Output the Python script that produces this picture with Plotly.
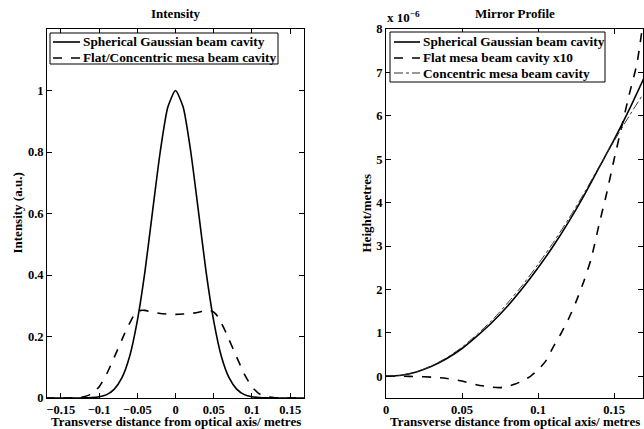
import plotly.graph_objects as go

# ---------------- data ----------------
# Left panel: intensity profiles
gauss_x = [-0.17, -0.16, -0.15, -0.14, -0.13, -0.12, -0.11, -0.10, -0.09, -0.08, -0.07, -0.06,
           -0.05, -0.04, -0.03, -0.02, -0.01, 0.0, 0.01, 0.02, 0.03, 0.04, 0.05, 0.06, 0.07,
           0.08, 0.09, 0.10, 0.11, 0.12, 0.13, 0.14, 0.15, 0.16, 0.17]
gauss_y = [0, 0, 0, 0, 0, 0.0003, 0.0012, 0.004, 0.011, 0.029, 0.066, 0.135,
           0.25, 0.41, 0.607, 0.80, 0.946, 1.0, 0.946, 0.80, 0.607, 0.41, 0.25, 0.135, 0.066,
           0.029, 0.011, 0.004, 0.0012, 0.0003, 0, 0, 0, 0, 0]

mesa_x = [-0.17, -0.16, -0.15, -0.14, -0.13, -0.12, -0.11, -0.10, -0.09, -0.08, -0.07, -0.065,
          -0.06, -0.055, -0.05, -0.045, -0.04, -0.03, -0.02, -0.01, 0.0, 0.01, 0.02, 0.03,
          0.04, 0.045, 0.05, 0.055, 0.06, 0.065, 0.07, 0.08, 0.09, 0.10, 0.11, 0.12, 0.13,
          0.14, 0.15, 0.16, 0.17]
mesa_y = [0, 0, 0, 0, 0.001, 0.004, 0.013, 0.036, 0.078, 0.133, 0.19, 0.218,
          0.243, 0.266, 0.279, 0.285, 0.285, 0.279, 0.275, 0.273, 0.272, 0.273, 0.275, 0.279,
          0.285, 0.285, 0.279, 0.266, 0.243, 0.218, 0.19, 0.133, 0.078, 0.036, 0.013, 0.004, 0.001,
          0, 0, 0, 0]

# Right panel: mirror profiles (units of 1e-6 m)
prof_x = [0.0, 0.01, 0.02, 0.03, 0.04, 0.05, 0.06, 0.07, 0.08, 0.09, 0.10, 0.11, 0.12,
          0.13, 0.14, 0.15, 0.16, 0.17]
spherical_h = [0, 0.025, 0.10, 0.23, 0.41, 0.64, 0.93, 1.25, 1.62, 2.04, 2.50, 3.00, 3.55,
               4.15, 4.80, 5.45, 6.15, 6.90]
concentric_h = [0, 0.026, 0.105, 0.24, 0.43, 0.67, 0.97, 1.30, 1.69, 2.11, 2.58, 3.08, 3.62,
                4.20, 4.82, 5.42, 6.00, 6.55]

flat_x = [0.0, 0.01, 0.02, 0.03, 0.04, 0.05, 0.06, 0.07, 0.075, 0.08, 0.085, 0.09, 0.095,
          0.10, 0.105, 0.11, 0.115, 0.12, 0.125, 0.13, 0.135, 0.14, 0.145, 0.15, 0.155,
          0.16, 0.165, 0.17]
flat_h = [0, 0.0, -0.005, -0.02, -0.05, -0.11, -0.20, -0.25, -0.26, -0.23, -0.18, -0.10, 0.0,
          0.15, 0.35, 0.68, 0.98, 1.32, 1.72, 2.18, 2.72, 3.48, 4.20, 5.00, 5.75,
          6.50, 7.20, 8.40]

left_xticks = [-0.15, -0.1, -0.05, 0, 0.05, 0.1, 0.15]
left_xticklabels = ["\u22120.15", "\u22120.1", "\u22120.05", "0", "0.05", "0.1", "0.15"]
left_yticks = [0, 0.2, 0.4, 0.6, 0.8, 1]
left_yticklabels = ["0", "0.2", "0.4", "0.6", "0.8", "1"]
right_xticks = [0, 0.05, 0.1, 0.15]
right_xticklabels = ["0", "0.05", "0.1", "0.15"]
right_yticks = [0, 1, 2, 3, 4, 5, 6, 7, 8]
right_yticklabels = ["0", "1", "2", "3", "4", "5", "6", "7", "8"]

left_legend_names = ["Spherical Gaussian beam cavity", "Flat/Concentric mesa beam cavity"]
right_legend_names = ["Spherical Gaussian beam cavity", "Flat mesa beam cavity x10",
                      "Concentric mesa beam cavity"]

# ---------------- figure ----------------
W, H = 644, 429
ML, MR, MT, MB = 47, 1, 29, 31
PW = W - ML - MR
PH = H - MT - MB


def px_x(p):
    return (p - ML) / PW


def px_y(p):
    return (H - MB - p) / PH


def b(s):
    return "<b>" + s + "</b>"


FONT = "Liberation Serif"
title_font = dict(family=FONT, size=13, color="black")
legend_font = dict(family=FONT, size=13.3, color="black")

styles_left = [dict(color="black", width=1.6, dash="solid"),
               dict(color="black", width=1.6, dash="dash")]
styles_right = [dict(color="black", width=1.6, dash="solid"),
                dict(color="black", width=1.6, dash="dash"),
                dict(color="#333333", width=1.0, dash="dashdot")]

fig = go.Figure()

fig.add_trace(go.Scatter(x=gauss_x, y=gauss_y, mode="lines", name=left_legend_names[0],
                         line=dict(**styles_left[0], shape="spline", smoothing=0.6),
                         xaxis="x", yaxis="y", showlegend=False))
fig.add_trace(go.Scatter(x=mesa_x, y=mesa_y, mode="lines", name=left_legend_names[1],
                         line=dict(**styles_left[1], shape="spline", smoothing=0.6),
                         xaxis="x", yaxis="y", showlegend=False))
fig.add_trace(go.Scatter(x=prof_x, y=spherical_h, mode="lines", name=right_legend_names[0],
                         line=dict(**styles_right[0], shape="spline", smoothing=0.6),
                         xaxis="x2", yaxis="y2", showlegend=False))
fig.add_trace(go.Scatter(x=flat_x, y=flat_h, mode="lines", name=right_legend_names[1],
                         line=dict(**styles_right[1], shape="spline", smoothing=0.6),
                         xaxis="x2", yaxis="y2", showlegend=False))
fig.add_trace(go.Scatter(x=prof_x, y=concentric_h, mode="lines", name=right_legend_names[2],
                         line=dict(**styles_right[2], shape="spline", smoothing=0.6),
                         xaxis="x2", yaxis="y2", showlegend=False))

axis_common = dict(showline=True, linecolor="black", linewidth=1, mirror="ticks",
                   ticks="inside", ticklen=5, tickcolor="black", tickwidth=1,
                   showgrid=False, zeroline=False, automargin=False,
                   tickfont=dict(family=FONT, size=12.5, color="black", weight="bold"))

shapes = []
annotations = []


def add_legend(x0, x1, y0, y1, rows_y, line_x0, line_x1, text_x, names, styles):
    shapes.append(dict(type="rect", xref="paper", yref="paper", layer="above",
                       x0=px_x(x0), x1=px_x(x1), y0=px_y(y1), y1=px_y(y0),
                       line=dict(color="black", width=1), fillcolor="white"))
    for ry, nm, st in zip(rows_y, names, styles):
        shapes.append(dict(type="line", xref="paper", yref="paper", layer="above",
                           x0=px_x(line_x0), x1=px_x(line_x1), y0=px_y(ry), y1=px_y(ry),
                           line=dict(color=st["color"], width=st["width"], dash=st["dash"])))
        annotations.append(dict(text=b(nm), xref="paper", yref="paper", x=px_x(text_x), y=px_y(ry),
                                xanchor="left", yanchor="middle", showarrow=False, font=legend_font))


add_legend(50, 278, 33, 64, [42, 58], 53, 80, 81, left_legend_names, styles_left)
add_legend(390, 605, 32, 82, [42, 58, 73], 394, 420, 421, right_legend_names, styles_right)

annotations += [
    dict(text=b("Intensity"), xref="paper", yref="paper", x=(px_x(47) + px_x(304)) / 2, y=px_y(14),
         xanchor="center", yanchor="middle", showarrow=False, font=title_font),
    dict(text=b("Mirror Profile"), xref="paper", yref="paper", x=(px_x(386) + 1) / 2, y=px_y(14),
         xanchor="center", yanchor="middle", showarrow=False, font=title_font),
    dict(text=b("x 10<sup>\u22126</sup>"), xref="paper", yref="paper", x=px_x(385), y=px_y(17),
         xanchor="left", yanchor="middle", showarrow=False, font=title_font),
    dict(text=b("Transverse distance from optical axis/ metres"), xref="paper", yref="paper",
         x=(px_x(47) + px_x(304)) / 2, y=px_y(421.5), xanchor="center", yanchor="middle",
         showarrow=False, font=title_font),
    dict(text=b("Transverse distance from optical axis/ metres"), xref="paper", yref="paper",
         x=(px_x(386) + 1) / 2, y=px_y(421.5), xanchor="center", yanchor="middle",
         showarrow=False, font=title_font),
    dict(text=b("Intensity (a.u.)"), xref="paper", yref="paper", x=px_x(17), y=0.5,
         xanchor="center", yanchor="middle", textangle=-90, showarrow=False, font=title_font),
    dict(text=b("Height/metres"), xref="paper", yref="paper", x=px_x(366), y=0.5,
         xanchor="center", yanchor="middle", textangle=-90, showarrow=False, font=title_font),
]

fig.update_layout(
    width=W, height=H,
    margin=dict(l=ML, r=MR, t=MT, b=MB, autoexpand=False),
    paper_bgcolor="white", plot_bgcolor="white",
    font=dict(family=FONT, size=13, color="black"),
    xaxis=dict(domain=[0, px_x(304)], range=[-0.168, 0.168], anchor="y",
               tickvals=left_xticks, ticktext=[b(t) for t in left_xticklabels], **axis_common),
    yaxis=dict(domain=[0, 1], range=[0, 1.2], anchor="x",
               tickvals=left_yticks, ticktext=[b(t) for t in left_yticklabels], **axis_common),
    xaxis2=dict(domain=[px_x(386), 1], range=[0, 0.169], anchor="y2",
                tickvals=right_xticks, ticktext=[b(t) for t in right_xticklabels], **axis_common),
    yaxis2=dict(domain=[0, 1], range=[-0.5, 8], anchor="x2",
                tickvals=right_yticks, ticktext=[b(t) for t in right_yticklabels], **axis_common),
    showlegend=False,
    shapes=shapes,
    annotations=annotations,
)

fig.write_html("out.html", config={"displayModeBar": False},
               post_script="document.body.style.margin='0';document.body.style.padding='0';")
